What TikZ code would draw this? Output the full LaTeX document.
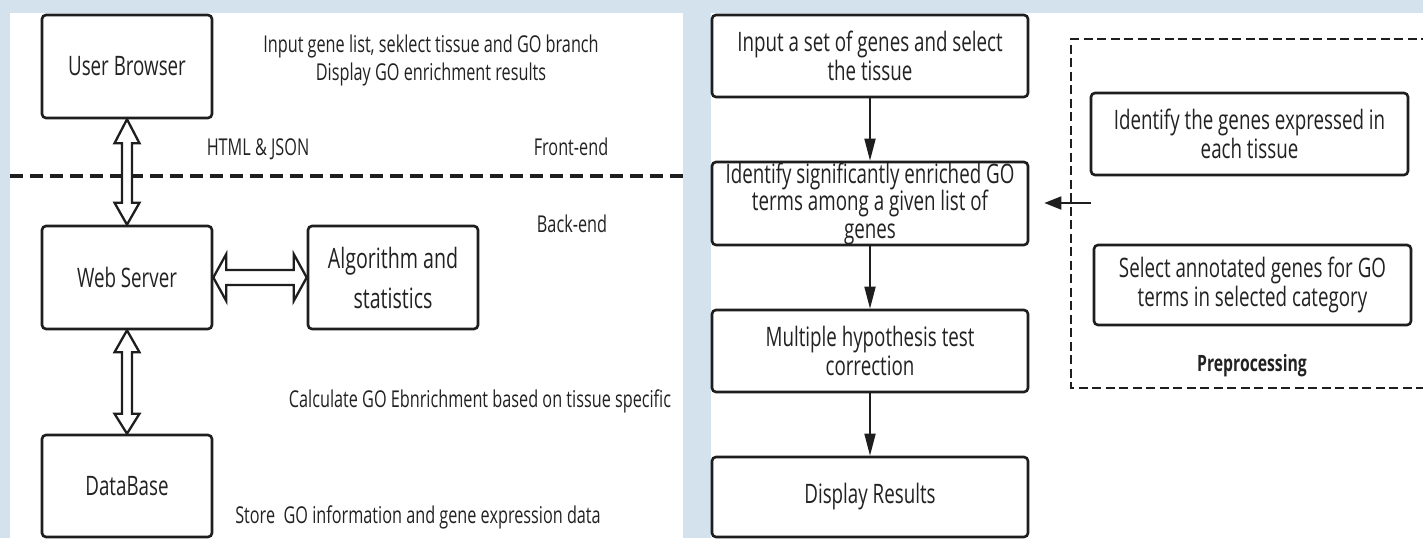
\documentclass[tikz,border=0pt]{standalone}
\usepackage{fontspec}
\setmainfont{Open Sans}[FakeStretch=0.70]
\usetikzlibrary{arrows.meta,calc}
\definecolor{bg}{RGB}{211,226,236}
\definecolor{ink}{RGB}{30,30,30}
\definecolor{txt}{RGB}{34,34,34}

\begin{document}
\begin{tikzpicture}[x=1pt,y=-1pt,
  box/.style={draw=ink,line width=2.6pt,rounded corners=4pt,fill=white,
    inner sep=0pt,align=center,text=txt,font=\fontsize{26.8}{29.5}\selectfont},
  note/.style={text=txt,font=\fontsize{23.2}{26}\selectfont,inner sep=0pt,anchor=base},
  dbl/.style={draw=ink,fill=white,line width=2.3pt,line join=miter},
  flow/.style={draw=ink,line width=1.8pt,-{Triangle[length=22pt,width=11pt]}},
  feedarrow/.style={draw=ink,line width=1.8pt,-{Triangle[length=17pt,width=13pt]}},
  tierline/.style={draw=ink,line width=3.2pt,dash pattern=on 13pt off 7pt},
  groupframe/.style={draw=ink,line width=2.1pt,dash pattern=on 9pt off 4.5pt},
]
\useasboundingbox (0,0) rectangle (1423,538);
\fill[bg] (0,0) rectangle (1423,538);
\fill[white] (10,13) rectangle (683,538);
\fill[white] (711,13) rectangle (1423,538);

% ---------- architecture ----------
\node[box,minimum width=170pt,minimum height=103pt] (ub) at (127,66.5) {User Browser};
\node[box,minimum width=170pt,minimum height=103pt] (ws) at (127,277.5) {Web Server};
\node[box,minimum width=170pt,minimum height=103pt,
      font=\fontsize{28}{40}\selectfont] (alg) at (393,277.5) {Algorithm and\\statistics};
\node[box,minimum width=170pt,minimum height=102pt] (db) at (127,486) {DataBase};

\node[note,anchor=base] (n1) at (431,52) {Input gene list, seklect tissue and GO branch};
\node[note,anchor=base] (n2) at (431,80) {Display GO enrichment results};
\node[note,anchor=base] (html) at (258,155) {HTML \& JSON};
\node[note,anchor=base] (fe) at (571,155) {Front-end};
\node[note,anchor=base] (be) at (572,232) {Back-end};
\node[note,anchor=base] (calc) at (480,407) {Calculate GO Ebnrichment based on tissue specific};
\node[note,anchor=base] (store) at (418,523) {Store\ \ GO information and gene expression data};

\draw[tierline] (10,176) -- (683,176);

% browser <-> server
\draw[dbl] (ub.south) -- ++(12.5,24) -- ++(-7.5,0) -- ($(ws.north)+(5,-22)$)
  -- ++(7.5,0) -- (ws.north) -- ++(-12.5,-22) -- ++(7.5,0)
  -- ($(ub.south)+(-5,24)$) -- ++(-7.5,0) -- cycle;
% server <-> database
\draw[dbl] (ws.south) -- ++(12.5,22) -- ++(-7.5,0) -- ($(db.north)+(5,-20)$)
  -- ++(7.5,0) -- (db.north) -- ++(-12.5,-20) -- ++(7.5,0)
  -- ($(ws.south)+(-5,22)$) -- ++(-7.5,0) -- cycle;
% server <-> algorithm
\draw[dbl] (ws.east) -- ++(13,-23.5) -- ++(0,16) -- ($(alg.west)+(-13,-7.5)$)
  -- ++(0,-16) -- (alg.west) -- ++(-13,23.5) -- ++(0,-16)
  -- ($(ws.east)+(13,7.5)$) -- ++(0,16) -- cycle;

% ---------- workflow ----------
\node[box,minimum width=316pt,minimum height=82pt] (b1) at (870,56)
  {Input a set of genes and select\\the tissue};
\node[box,minimum width=316pt,minimum height=83pt,
      font=\fontsize{26.8}{27.5}\selectfont] (b2) at (870,203.5)
  {Identify significantly enriched GO\\terms among a given list of\\genes};
\node[box,minimum width=316pt,minimum height=82pt] (b3) at (870,351)
  {Multiple hypothesis test\\correction};
\node[box,minimum width=316pt,minimum height=80pt] (b4) at (870,497)
  {Display Results};

\draw[flow] (b1) -- (b2);
\draw[flow] (b2) -- (b3);
\draw[flow] (b3) -- (b4);

\draw[groupframe] (1430,39) -| (1071,388) -- (1430,388);
\node[box,minimum width=317pt,minimum height=82pt] (b5) at (1249.5,134)
  {Identify the genes expressed in\\each tissue};
\node[box,minimum width=317pt,minimum height=80pt] (b6) at (1252.5,285)
  {Select annotated genes for GO\\terms in selected category};
\node[note,anchor=base,font=\bfseries\fontsize{22.5}{26}\selectfont] (pre) at (1252,371) {Preprocessing};

\coordinate (feed) at (1091,203);
\draw[feedarrow,shorten >=15pt] (feed) -- (feed -| b2.east);
\end{tikzpicture}
\end{document}
